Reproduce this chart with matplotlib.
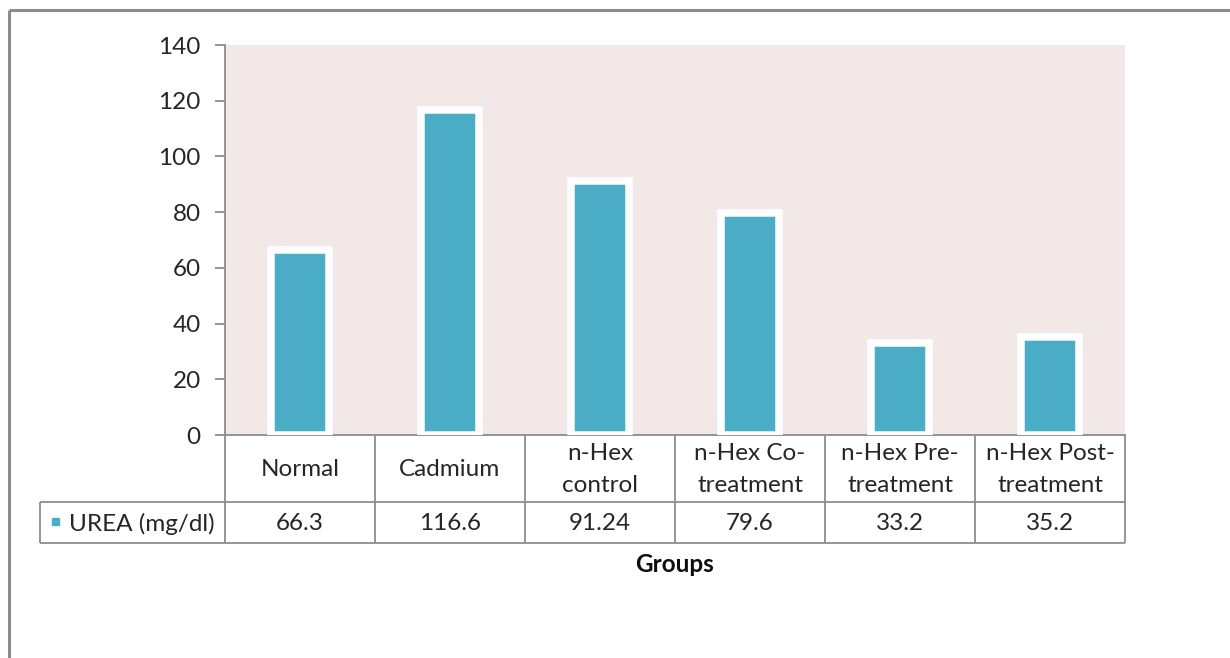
import matplotlib
matplotlib.use("Agg")
import matplotlib.pyplot as plt
from matplotlib import patheffects as pe

plt.rcParams['font.family'] = ['Lato', 'DejaVu Sans']

groups = ["Normal", "Cadmium", "n-Hex\ncontrol", "n-Hex Co-\ntreatment",
          "n-Hex Pre-\ntreatment", "n-Hex Post-\ntreatment"]
urea = [66.3, 116.6, 91.24, 79.6, 33.2, 35.2]
urea_labels = ["66.3", "116.6", "91.24", "79.6", "33.2", "35.2"]
series_name = "UREA (mg/dl)"
yticks = [0, 20, 40, 60, 80, 100, 120, 140]

W, H = 1230, 658
BAR = "#4BACC6"
GRID = "#8C8C8C"
TXT = "#262626"
FS = 17.5

fig = plt.figure(figsize=(W / 100, H / 100), dpi=100)

# pixel-space layer for frame, data table and axis title
over = fig.add_axes([0, 0, 1, 1], zorder=0)
over.set_xlim(0, W)
over.set_ylim(H, 0)
over.axis("off")

# plot area
x0, x1, ytop, ybot = 225, 1125, 45, 435
ax = fig.add_axes([x0 / W, 1 - ybot / H, (x1 - x0) / W, (ybot - ytop) / H], zorder=1)
ax.set_facecolor("#F2E8E8")
n = len(groups)
pos = list(range(n))
bars = ax.bar(pos, urea, width=0.39, color=BAR, edgecolor="white", linewidth=5.4,
              zorder=3)
for b in bars:
    b.set_path_effects([pe.withSimplePatchShadow(offset=(1.5, -1.5), alpha=0.12)])
ax.set_xlim(-0.5, n - 0.5)
ax.set_ylim(0, 140)
ax.set_yticks(yticks)
ax.set_xticks([])
for s in ("top", "right"):
    ax.spines[s].set_visible(False)
for s in ("left", "bottom"):
    ax.spines[s].set_color(GRID)
    ax.spines[s].set_linewidth(1.3)
ax.tick_params(axis="y", length=7, width=1.3, color=GRID, labelsize=FS,
               labelcolor=TXT, pad=10.5)

# data table
cw = (x1 - x0) / n
hdr_bot, row_bot, leg_left = 502, 543, 40
lk = dict(color=GRID, lw=1.3, solid_capstyle="butt")
for i in range(n + 1):
    xx = x0 + i * cw
    over.plot([xx, xx], [ybot, row_bot], **lk)
over.plot([leg_left, x1], [hdr_bot, hdr_bot], **lk)
over.plot([leg_left, x1], [row_bot, row_bot], **lk)
over.plot([leg_left, leg_left], [hdr_bot, row_bot], **lk)

for i in range(n):
    cx = x0 + (i + 0.5) * cw
    over.text(cx, (ybot + hdr_bot) / 2 + 1, groups[i], ha="center", va="center",
              fontsize=FS, color=TXT, linespacing=1.65)
    over.text(cx, (hdr_bot + row_bot) / 2 + 1, urea_labels[i], ha="center",
              va="center", fontsize=FS, color=TXT)

over.add_patch(plt.Rectangle((52, 518), 7, 7, color=BAR))
over.text(69, (hdr_bot + row_bot) / 2 + 1, series_name, ha="left", va="center",
          fontsize=FS, color=TXT)

over.text((x0 + x1) / 2, 565, "Groups", ha="center", va="center", fontsize=FS,
          fontweight="bold", color="#0D0D0D")

# outer frame
over.plot([8.5, 8.5], [10, H], color="#8C8C8C", lw=2.2, solid_capstyle="butt")
over.plot([8.5, W], [10, 10], color="#8C8C8C", lw=2.2, solid_capstyle="butt")

fig.savefig("out.png", dpi=100, facecolor="white")
